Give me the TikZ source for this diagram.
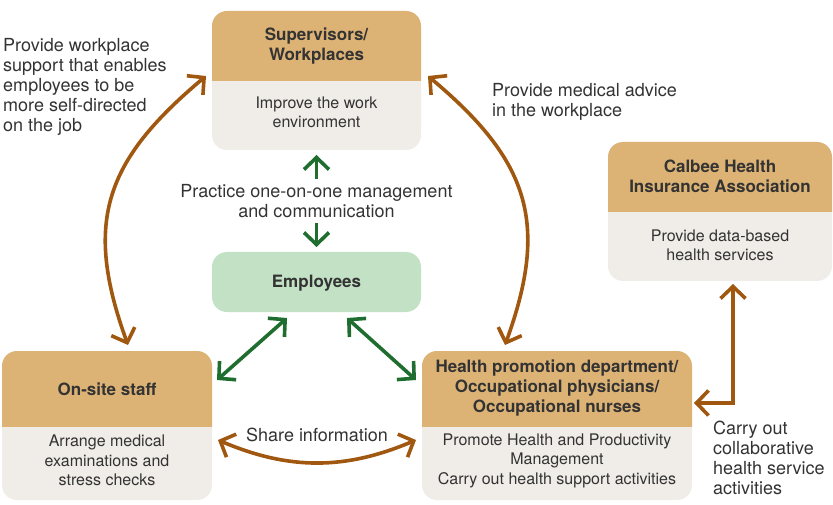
\documentclass[tikz,border=0pt]{standalone}
\usepackage{fontspec}
\setmainfont{TeX Gyre Heros}
\usetikzlibrary{arrows.meta}

\definecolor{headtan}{HTML}{DDB375}
\definecolor{bodygray}{HTML}{F0EDE8}
\definecolor{empgreen}{HTML}{C3E1C5}
\definecolor{arrbrown}{HTML}{A0570F}
\definecolor{arrgreen}{HTML}{1F6E2F}
\definecolor{txtgray}{HTML}{333333}

\begin{document}
\begin{tikzpicture}[x=1pt, y=-1pt,
  card/.style={inner sep=0pt, outer sep=0pt},
  head/.style={font=\fontsize{17}{20}\selectfont\bfseries, text=txtgray, align=center},
  body/.style={font=\fontsize{16}{19.5}\selectfont, text=txtgray, align=center},
  note/.style={font=\fontsize{18}{20}\selectfont, text=txtgray, align=left, inner sep=0pt},
  garrow/.style={draw=arrgreen, line width=3.6pt, -{Straight Barb[length=12pt,width=25pt]}},
  gtwo/.style={draw=arrgreen, line width=3.6pt, {Straight Barb[length=12pt,width=25pt]}-{Straight Barb[length=12pt,width=25pt]}},
  btwo/.style={draw=arrbrown, line width=3.6pt, {Straight Barb[length=12pt,width=25pt]}-{Straight Barb[length=12pt,width=25pt]}}]

\useasboundingbox (0,0) rectangle (833,505);

\node[card, minimum width=209pt, minimum height=139pt] (sup) at (316.5,80.5) {};
\node[card, minimum width=224pt, minimum height=139pt] (cal) at (720,211.5) {};
\node[card, minimum width=209pt, minimum height=60pt] (emp) at (316.5,282) {};
\node[card, minimum width=210pt, minimum height=149pt] (ons) at (107,425.5) {};
\node[card, minimum width=270pt, minimum height=149pt] (hlt) at (557,425.5) {};

\foreach \c/\m in {sup/81, cal/212, ons/426, hlt/426} {
	\fill[bodygray, rounded corners=15pt] (\c.north west) rectangle (\c.south east);
	\begin{scope}
		\clip (\c.north west) rectangle (\c.east |- 0,\m);
		\fill[headtan, rounded corners=15pt] (\c.north west) rectangle (\c.south east);
	\end{scope}
}
\fill[empgreen, rounded corners=15pt] (emp.north west) rectangle (emp.south east);

\node[head] (sup-h) at (316.5,46) {Supervisors/\\Workplaces};
\node[body] (sup-t) at (316.5,112.5) {Improve the work\\environment};
\node[head] (cal-h) at (720,176) {Calbee Health\\Insurance Association};
\node[body] (cal-t) at (720,245.5) {Provide data-based\\health services};
\node[head] (emp-h) at (316.5,283) {Employees};
\node[head] (ons-h) at (107,389) {On-site staff};
\node[body] (ons-t) at (107,460.5) {Arrange medical\\examinations and\\stress checks};
\node[head] (hlt-h) at (557,388) {Health promotion department/\\Occupational physicians/\\Occupational nurses};
\node[body] (hlt-t) at (557,460.5) {Promote Health and Productivity\\Management\\Carry out health support activities};

\node[note, anchor=west] (wkp) at (3,87) {Provide workplace\\support that enables\\employees to be\\more self-directed\\on the job};
\node[note, anchor=west] (med) at (492,102) {Provide medical advice\\in the workplace};
\node[note, align=center] (prc) at (316.5,201) {Practice one-on-one management\\and communication};
\node[note] (shr) at (317,435) {Share information};
\node[note, anchor=west] (col) at (713,458) {Carry out\\collaborative\\health service\\activities};

\draw[garrow] ([yshift=5pt]prc.north) -- ([yshift=-5pt]sup.south);
\draw[garrow] ([yshift=-5pt]prc.south) -- ([yshift=5pt]emp.north);
\draw[gtwo] ([shift={(-29.5,6)}]emp.south) -- ([shift={(5,29)}]ons.north east);
\draw[gtwo] ([shift={(30.5,6)}]emp.south) -- ([shift={(-6,29)}]hlt.north west);

\draw[btwo] ([shift={(21,-6)}]ons.north) to[out=110, in=220, looseness=1.2] ([shift={(-6,-4.5)}]sup.west);
\draw[btwo] ([shift={(-52,-6)}]hlt.north) to[out=70, in=320, looseness=1.2] ([shift={(7,-4.5)}]sup.east);
\draw[btwo] ([shift={(6,14.5)}]ons.east) to[out=-23, in=-157] ([shift={(-6,14.5)}]hlt.west);
\draw[btwo] ([shift={(13,3)}]cal.south) |- ([shift={(2,-22.5)}]hlt.east);

\end{tikzpicture}
\end{document}
